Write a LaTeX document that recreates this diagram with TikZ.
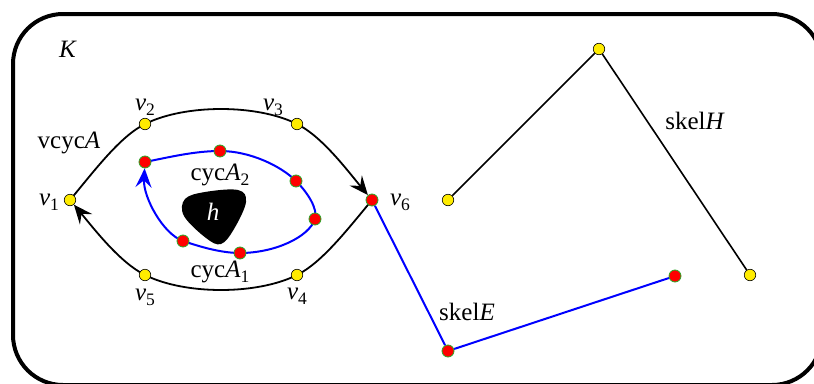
\documentclass[tikz,border=0pt]{standalone}
\usepackage{fontspec}
\setmainfont{Liberation Serif}
\usetikzlibrary{arrows.meta}
\pgfdeclarelayer{bg}
\pgfsetlayers{bg,main}
\definecolor{yel}{RGB}{255,236,0}
\definecolor{grn}{RGB}{40,170,40}
\newcommand\ssub[2]{\textit{#1}\raisebox{-0.2em}{\fontsize{17.5}{18}\selectfont #2}}
\begin{document}
\begin{tikzpicture}[x=1pt,y=-1pt,
  yelnode/.style={circle,draw=black,fill=yel,line width=0.6pt,inner sep=0pt,minimum size=11.5pt},
  rednode/.style={circle,draw=grn,fill=red,line width=0.8pt,inner sep=0pt,minimum size=12pt},
  lbl/.style={font=\fontsize{25}{28}\selectfont,inner sep=0pt,anchor=base},
  blk/.style={line width=1.8pt,black},
  blu/.style={line width=2pt,blue},
  tipk/.style={-{Stealth[length=19pt,width=16pt,inset=7pt]}},
  frame/.style={line width=4pt,rounded corners=50pt}]
\useasboundingbox (0,0) rectangle (814,383);
\clip (0,0) rectangle (814,383);
\draw[frame] (13,14) rectangle (822,385);
% outer cycle vertices
\node[yelnode] (v1) at (70,200) {};
\node[yelnode] (v2) at (145,124) {};
\node[yelnode] (v3) at (297,124) {};
\node[yelnode] (v4) at (297,275) {};
\node[yelnode] (v5) at (145,275) {};
\node[rednode] (v6) at (372,200) {};
% inner cycle
\node[rednode] (a) at (145,162) {};
\node[rednode] (b) at (220,151) {};
\node[rednode] (c) at (296,181) {};
\node[rednode] (d) at (315,219) {};
\node[rednode] (e) at (240,253) {};
\node[rednode] (f) at (183,241) {};
% skeleton H
\node[yelnode] (p1) at (448,200) {};
\node[yelnode] (p2) at (599,49) {};
\node[yelnode] (p3) at (750,275) {};
% skeleton E
\node[rednode] (q1) at (448,351) {};
\node[rednode] (q2) at (675,276) {};
% hole
\fill[black] plot[smooth cycle, tension=0.6] coordinates {(185,199) (205,192) (238,190) (246,202) (234,229) (221,244) (206,238) (184,216)};
\node[lbl,text=white] (h) at (213,220) {\textit{h}};
% labels
\node[lbl] (lK) at (68,57) {\textit{K}};
\node[lbl] (lvcyc) at (69,148) {vcyc\textit{A}};
\node[lbl] (l1) at (49,205) {\ssub{v}{1}};
\node[lbl] (l2) at (145,110) {\ssub{v}{2}};
\node[lbl] (l3) at (273,110) {\ssub{v}{3}};
\node[lbl] (l4) at (297,299) {\ssub{v}{4}};
\node[lbl] (l5) at (145,300) {\ssub{v}{5}};
\node[lbl] (l6) at (400,205) {\ssub{v}{6}};
\node[lbl] (lA2) at (220,180) {cyc\ssub{A}{2}};
\node[lbl] (lA1) at (220,277) {cyc\ssub{A}{1}};
\node[lbl] (lE) at (467,320) {skel\textit{E}};
\node[lbl] (lH) at (695,129) {skel\textit{H}};
\begin{pgfonlayer}{bg}
\draw[blk] (v1.center) .. controls (95,170) and (120,136.5) .. (v2.center)
  .. controls (185,104) and (257,104) .. (v3.center);
\draw[blk,tipk] (v3.center) .. controls (322,136.5) and (347,170) .. (v6);
\draw[blk] (v6.center) .. controls (347,230) and (322,262.5) .. (v4.center)
  .. controls (257,295) and (185,295) .. (v5.center);
\draw[blk,tipk] (v5.center) .. controls (120,262.5) and (95,230) .. (v1);
\draw[blu] (a.center) .. controls (170,157) and (195,151) .. (b.center)
  .. controls (250,151) and (281,166) .. (c.center)
  .. controls (308,193) and (318,209) .. (d.center)
  .. controls (309,237) and (275,253) .. (e.center)
  .. controls (220,253) and (198,246) .. (f.center);
\draw[blu,tipk] (f.center) .. controls (163,234) and (143,197) .. (a);
\draw[blk,line width=1.6pt] (p1) -- (p2) -- (p3);
\draw[blu] (v6) -- (q1) -- (q2);
\end{pgfonlayer}
\end{tikzpicture}
\end{document}
